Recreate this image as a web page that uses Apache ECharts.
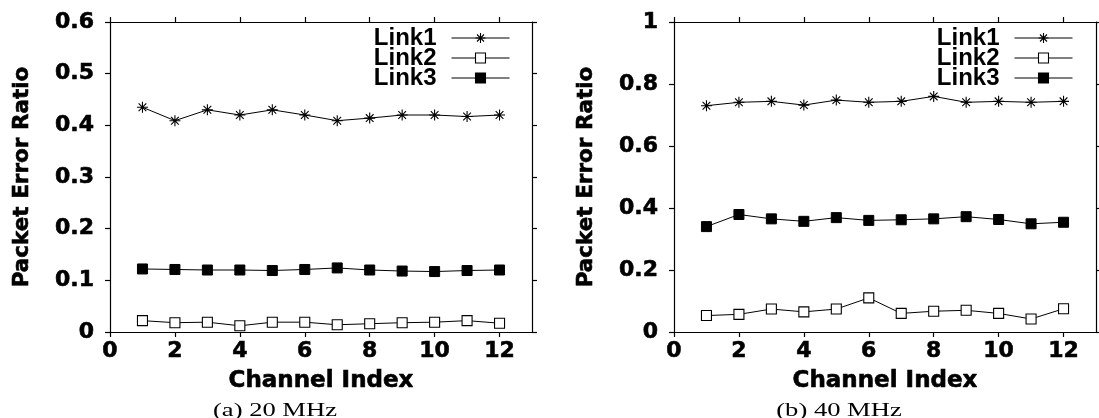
<!DOCTYPE html>
<html>
<head>
<meta charset="utf-8">
<script src="https://cdn.jsdelivr.net/npm/echarts@6/dist/echarts.min.js"></script>
<style>
  html, body { margin: 0; padding: 0; background: #fff; }
  #chart { width: 1099px; height: 418px; }
</style>
</head>
<body>
<div id="chart"></div>
<script>
// Channel indices on the x axis
const channels = [1, 2, 3, 4, 5, 6, 7, 8, 9, 10, 11, 12];
const xTicks = [0, 2, 4, 6, 8, 10, 12];
const linkNames = ['Link1', 'Link2', 'Link3'];

// 20 MHz packet error ratios
const link1_20MHz = [0.435, 0.409, 0.430, 0.420, 0.430, 0.420, 0.409, 0.414, 0.420, 0.420, 0.417, 0.420];
const link2_20MHz = [0.022, 0.018, 0.019, 0.012, 0.019, 0.019, 0.014, 0.016, 0.018, 0.019, 0.022, 0.017];
const link3_20MHz = [0.122, 0.121, 0.120, 0.120, 0.119, 0.121, 0.124, 0.120, 0.118, 0.117, 0.119, 0.120];

// 40 MHz packet error ratios
const link1_40MHz = [0.730, 0.741, 0.744, 0.732, 0.748, 0.741, 0.744, 0.760, 0.741, 0.744, 0.741, 0.744];
const link2_40MHz = [0.053, 0.057, 0.074, 0.065, 0.074, 0.110, 0.060, 0.067, 0.070, 0.060, 0.042, 0.075];
const link3_40MHz = [0.340, 0.379, 0.365, 0.357, 0.369, 0.360, 0.362, 0.365, 0.372, 0.363, 0.349, 0.354];

// y axis ranges per panel
const yMax = [0.6, 1];
const yStep = [0.1, 0.2];
const captions = ['(a) 20 MHz', '(b) 40 MHz'];
const xTitle = 'Channel Index';
const yTitle = 'Packet Error Ratio';

const panels = [
  [link1_20MHz, link2_20MHz, link3_20MHz],
  [link1_40MHz, link2_40MHz, link3_40MHz]
];

const SANS = '"DejaVu Sans", sans-serif';
const asterisk = 'path://M5,0L5,10M0,5L10,5M1.5,1.5L8.5,8.5M8.5,1.5L1.5,8.5';
const markers = [
  { symbol: asterisk, symbolSize: 11, itemStyle: { color: '#000', borderColor: '#000', borderWidth: 1.1 } },
  { symbol: 'rect', symbolSize: 10, itemStyle: { color: '#fff', borderColor: '#000', borderWidth: 1.1 } },
  { symbol: 'rect', symbolSize: 10, itemStyle: { color: '#000', borderColor: '#000', borderWidth: 1 } }
];

const gridLefts = [110, 674];
const legendRights = [589, 26];
const captionX = [275, 839];

// bold sans text, slightly thickened with a thin outline
const heavy = { fontFamily: SANS, fontWeight: 'bold', color: '#000', textBorderColor: '#000', textBorderWidth: 0.6 };
const tickFont = Object.assign({ fontSize: 22 }, heavy);
const axisLine = { show: true, onZero: false, lineStyle: { color: '#000', width: 1.2 } };
const axisTick = { show: true, inside: false, length: 5, lineStyle: { color: '#000', width: 1.2 } };

const grid = [], xAxis = [], yAxis = [], series = [], legend = [], graphic = [];

panels.forEach((links, p) => {
  grid.push({ left: gridLefts[p], top: 22, width: 422, height: 310 });

  // bottom axis with labels, top axis as mirrored border with ticks
  xAxis.push({
    gridIndex: p, type: 'value', position: 'bottom', min: 0, max: 13,
    axisLine: axisLine,
    axisTick: Object.assign({ customValues: xTicks }, axisTick),
    axisLabel: Object.assign({ customValues: xTicks, margin: 8 }, tickFont),
    splitLine: { show: false },
    name: xTitle, nameLocation: 'middle', nameGap: 38,
    nameTextStyle: Object.assign({ fontSize: 23 }, heavy)
  });
  xAxis.push({
    gridIndex: p, type: 'value', position: 'top', min: 0, max: 13,
    axisLine: axisLine,
    axisTick: Object.assign({ customValues: xTicks }, axisTick),
    axisLabel: { show: false },
    splitLine: { show: false }
  });

  yAxis.push({
    gridIndex: p, type: 'value', position: 'left', min: 0, max: yMax[p], interval: yStep[p],
    axisLine: axisLine, axisTick: axisTick,
    axisLabel: Object.assign({ margin: 16 }, tickFont),
    splitLine: { show: false },
    name: yTitle, nameLocation: 'middle', nameGap: 77,
    nameTextStyle: Object.assign({ fontSize: 21.5 }, heavy)
  });
  yAxis.push({
    gridIndex: p, type: 'value', position: 'right', min: 0, max: yMax[p], interval: yStep[p],
    axisLine: axisLine, axisTick: axisTick,
    axisLabel: { show: false },
    splitLine: { show: false }
  });

  links.forEach((vals, k) => {
    series.push(Object.assign({
      name: linkNames[k], type: 'line',
      xAxisIndex: 2 * p, yAxisIndex: 2 * p,
      data: channels.map((c, i) => [c, vals[i]]),
      lineStyle: { color: '#000', width: 1 },
      showAllSymbol: true, animation: false, silent: true
    }, markers[k]));
  });

  legend.push({
    data: linkNames, orient: 'vertical', align: 'right',
    right: legendRights[p], top: 26, padding: 0,
    itemWidth: 58, itemHeight: 12.5, itemGap: -4,
    selectedMode: false,
    itemStyle: { borderWidth: 1.1 },
    lineStyle: { width: 1, color: '#000' },
    textStyle: {
      fontFamily: '"Liberation Sans", Arial, sans-serif', fontWeight: 'bold', fontSize: 24,
      color: '#000', padding: [0, 10, 0, 0]
    }
  });

  graphic.push({
    type: 'text', x: captionX[p], y: 411, scaleX: 1.43, silent: true,
    style: {
      text: captions[p], x: 0, y: 0, align: 'center', verticalAlign: 'middle',
      font: '18.6px "Liberation Serif", serif', fill: '#000'
    }
  });
});

const chart = echarts.init(document.getElementById('chart'), null, { renderer: 'canvas' });
chart.setOption({
  backgroundColor: '#fff',
  animation: false,
  grid, xAxis, yAxis, series, legend, graphic
});
</script>
</body>
</html>
